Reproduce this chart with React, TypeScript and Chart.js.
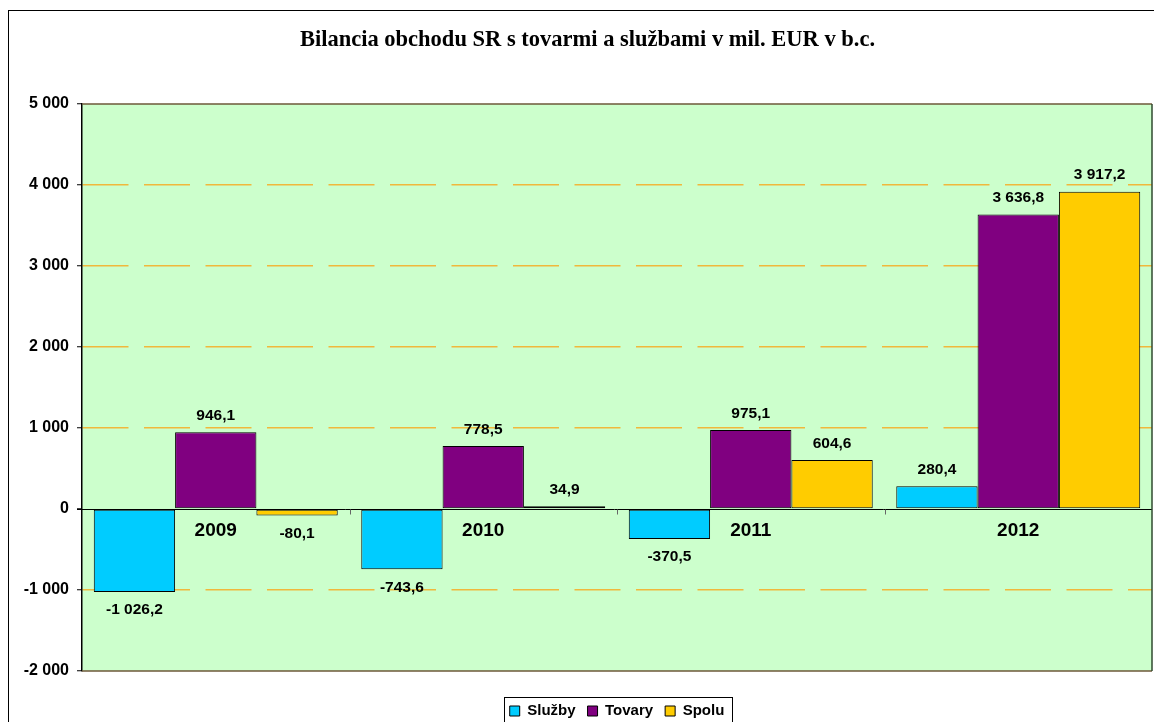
import React, { useEffect, useRef } from 'react';
import { Chart, registerables } from 'chart.js';

Chart.register(...registerables);

const categories = ['2009', '2010', '2011', '2012'];
const seriesNames = ['Služby', 'Tovary', 'Spolu'];
const sluzby = [-1026.2, -743.6, -370.5, 280.4];
const tovary = [946.1, 778.5, 975.1, 3636.8];
const spolu = [-80.1, 34.9, 604.6, 3917.2];
const seriesColors = ['#00CCFF', '#800080', '#FFCC00'];
const yMin = -2000;
const yMax = 5000;
const yStep = 1000;
const chartTitle = 'Bilancia obchodu SR s tovarmi a službami v mil. EUR v b.c.';

const SANS = 'Arial, "Liberation Sans", sans-serif';
const SERIF = '"Times New Roman", "Liberation Serif", serif';

function fmt(v: number, dec: number): string {
  const neg = v < 0;
  const s = Math.abs(v).toFixed(dec);
  const parts = s.split('.');
  const ints = parts[0].replace(/\B(?=(\d{3})+(?!\d))/g, ' ');
  return (neg ? '-' : '') + ints + (parts[1] ? ',' + parts[1] : '');
}

const decorPlugin = {
  id: 'decor',
  afterLayout(chart: any) {
    const lg = chart.legend;
    const a = chart.chartArea;
    if (!lg || !a) return;
    const shift = (a.left + a.right) / 2 - (lg.left + lg.right) / 2;
    lg.left += shift;
    lg.right += shift;
  },
  beforeDraw(chart: any) {
    const { ctx, chartArea: a } = chart;
    ctx.save();
    ctx.fillStyle = '#CCFFCC';
    ctx.fillRect(a.left, a.top, a.right - a.left, a.bottom - a.top);
    ctx.restore();
  },
  beforeDatasetsDraw(chart: any) {
    const { ctx, chartArea: a, scales } = chart;
    const y0 = Math.round(scales.y.getPixelForValue(0)) + 0.5;
    ctx.save();
    ctx.strokeStyle = '#000';
    ctx.lineWidth = 1;
    ctx.beginPath();
    ctx.moveTo(a.left - 5, y0);
    ctx.lineTo(a.right, y0);
    ctx.stroke();
    // category boundary ticks
    ctx.strokeStyle = '#666';
    ctx.beginPath();
    const xs = scales.x;
    for (let i = 0; i < categories.length - 1; i++) {
      const bx = Math.round((xs.getPixelForValue(i) + xs.getPixelForValue(i + 1)) / 2) + 0.5;
      ctx.moveTo(bx, y0);
      ctx.lineTo(bx, y0 + 5);
    }
    ctx.stroke();
    ctx.restore();
  },
  afterDatasetsDraw(chart: any) {
    const { ctx, chartArea: a, scales } = chart;
    ctx.save();
    // frame
    ctx.lineWidth = 1.5;
    ctx.strokeStyle = '#6E5A3A';
    ctx.beginPath();
    ctx.moveTo(a.left, a.top);
    ctx.lineTo(a.right, a.top);
    ctx.moveTo(a.left, a.bottom);
    ctx.lineTo(a.right, a.bottom);
    ctx.stroke();
    ctx.strokeStyle = '#2F4A2F';
    ctx.beginPath();
    ctx.moveTo(a.right, a.top);
    ctx.lineTo(a.right, a.bottom);
    ctx.stroke();

    // data labels
    ctx.fillStyle = '#000';
    ctx.textAlign = 'center';
    ctx.textBaseline = 'middle';
    ctx.font = 'bold 15.5px ' + SANS;
    chart.data.datasets.forEach((ds: any, di: number) => {
      const meta = chart.getDatasetMeta(di);
      meta.data.forEach((bar: any, i: number) => {
        const v = ds.data[i];
        const yy = v >= 0 ? bar.y - 16.5 : bar.y + 18;
        ctx.fillText(fmt(v, 1), bar.x, yy);
      });
    });

    // category labels at zero line
    const y0 = scales.y.getPixelForValue(0);
    ctx.font = 'bold 19px ' + SANS;
    categories.forEach((c, i) => {
      ctx.fillText(c, scales.x.getPixelForValue(i), y0 + 22);
    });
    ctx.restore();
  },
  afterDraw(chart: any) {
    const lg = chart.legend;
    if (!lg || !lg.legendHitBoxes || !lg.legendHitBoxes.length) return;
    const hbs = lg.legendHitBoxes;
    let l = Infinity;
    let r = -Infinity;
    let cy = 0;
    hbs.forEach((h: any) => {
      l = Math.min(l, h.left);
      r = Math.max(r, h.left + h.width);
      cy = h.top + h.height / 2;
    });
    const { ctx } = chart;
    ctx.save();
    ctx.strokeStyle = '#000';
    ctx.lineWidth = 1;
    ctx.strokeRect(Math.round(l - 6) + 0.5, Math.round(cy - 14) + 0.5, Math.round(r - l + 13), 30);
    ctx.restore();
  },
};

export default function App() {
  const ref = useRef<HTMLCanvasElement | null>(null);

  useEffect(() => {
    if (!ref.current) return;
    const datasets = [sluzby, tovary, spolu].map((d, i) => ({
      label: seriesNames[i],
      data: d,
      backgroundColor: seriesColors[i],
      borderColor: '#000',
      borderWidth: 1,
      borderSkipped: false,
      categoryPercentage: 0.912,
      barPercentage: 1,
    }));
    const chart = new Chart(ref.current, {
      type: 'bar',
      data: { labels: categories, datasets },
      options: {
        responsive: false,
        animation: false,
        layout: { padding: { left: 14, right: 9, top: 0, bottom: 2.5 } },
        plugins: {
          tooltip: { enabled: false },
          title: {
            display: true,
            text: chartTitle,
            color: '#000',
            font: { family: SERIF, size: 22.5, weight: 'bold' },
            padding: { top: 16, bottom: 50 },
          },
          legend: {
            display: true,
            position: 'bottom',
            labels: {
              color: '#000',
              boxWidth: 10,
              boxHeight: 10,
              padding: 12,
              font: { family: SANS, size: 15, weight: 'bold' },
            },
          },
        },
        scales: {
          x: {
            type: 'category',
            display: true,
            offset: true,
            grid: { display: false },
            border: { display: false },
            ticks: { display: false },
            afterFit: (s: any) => {
              s.height = 20.5;
            },
          },
          y: {
            min: yMin,
            max: yMax,
            afterFit: (s: any) => {
              s.width = 59;
            },
            ticks: {
              stepSize: yStep,
              color: '#000',
              padding: 8,
              font: { family: SANS, size: 16, weight: 'bold' },
              callback: (v: any) => fmt(Number(v), 0),
            },
            grid: {
              color: (ctx: any) => {
                const v = ctx.tick ? ctx.tick.value : null;
                if (v === 0 || v === yMin || v === yMax) return 'rgba(0,0,0,0)';
                return '#F0B83C';
              },
              lineWidth: 1.5,
              tickColor: '#000',
              tickLength: 5,
              tickWidth: 1,
              tickBorderDash: [],
            },
            border: { display: true, color: '#000', width: 1.5, dash: [46, 15.5] },
          },
        },
      },
      plugins: [decorPlugin],
    } as any);
    return () => chart.destroy();
  }, []);

  return (
    <div
      style={{
        position: 'fixed',
        left: 8,
        top: 10,
        width: 1152,
        height: 720,
        border: '1px solid #000',
        background: '#fff',
      }}
    >
      <canvas ref={ref} width={1152} height={720} style={{ display: 'block' }} />
    </div>
  );
}
